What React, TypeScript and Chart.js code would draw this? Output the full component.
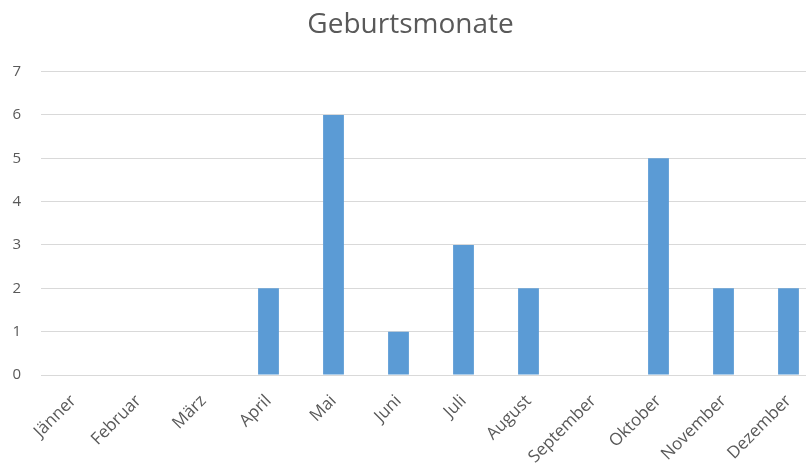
import React, { useEffect, useRef } from "react";
import { Chart, registerables } from "chart.js";

Chart.register(...registerables);

const months = ["Jänner", "Februar", "März", "April", "Mai", "Juni", "Juli", "August", "September", "Oktober", "November", "Dezember"];
const counts = [0, 0, 0, 2, 6, 1, 3, 2, 0, 5, 2, 2];
const yTicks = [0, 1, 2, 3, 4, 5, 6, 7];
const titleText = "Geburtsmonate";

export default function App() {
  const ref = useRef<HTMLCanvasElement | null>(null);
  useEffect(() => {
    if (!ref.current) return;
    const chart = new Chart(ref.current, {
      type: "bar",
      data: {
        labels: months,
        datasets: [
          {
            data: counts,
            backgroundColor: "#5B9BD5",
            borderWidth: 0,
            categoryPercentage: 1,
            barPercentage: 0.32,
          },
        ],
      },
      options: {
        animation: false,
        responsive: false,
        maintainAspectRatio: false,
        layout: { padding: { left: 0, right: 15, top: 0, bottom: 0 } },
        plugins: {
          legend: { display: false },
          tooltip: { enabled: false },
          title: {
            display: true,
            text: titleText,
            color: "#595959",
            font: { family: "'Open Sans', sans-serif", size: 28, weight: "normal", lineHeight: 1.2 },
            padding: { top: 8, bottom: 30 },
          },
        },
        scales: {
          x: {
            grid: { display: false, drawTicks: false },
            border: { display: false },
            ticks: {
              color: "#595959",
              font: { family: "'Open Sans', sans-serif", size: 17 },
              maxRotation: 45,
              minRotation: 45,
              padding: 16,
              autoSkip: false,
            },
            afterFit: (s: any) => {
              s.height = 96;
            },
          },
          y: {
            min: 0,
            max: 7,
            afterBuildTicks: (s: any) => {
              s.ticks = yTicks.map((v) => ({ value: v }));
            },
            grid: { color: "#d9d9d9", lineWidth: 1, drawTicks: false },
            border: { display: false },
            ticks: {
              color: "#595959",
              font: { family: "'Open Sans', sans-serif", size: 15 },
              padding: 20,
            },
            afterFit: (s: any) => {
              s.width = 41;
            },
          },
        },
      },
    });
    return () => chart.destroy();
  }, []);
  return (
    <div style={{ position: "fixed", left: 0, top: 0, width: 836, height: 471, background: "#fff" }}>
      <canvas ref={ref} width={836} height={471} style={{ display: "block" }} />
    </div>
  );
}
